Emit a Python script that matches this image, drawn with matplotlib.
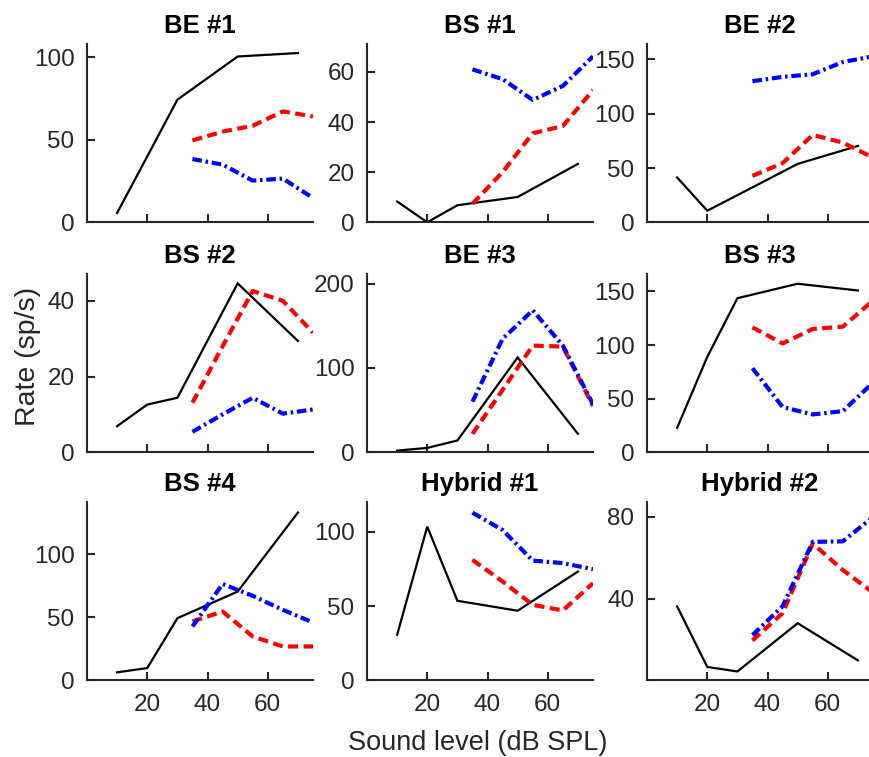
import matplotlib
matplotlib.use("Agg")
import matplotlib.pyplot as plt

plt.rcParams['font.family'] = ['Liberation Sans', 'DejaVu Sans']

titles = ["BE #1", "BS #1", "BE #2",
          "BS #2", "BE #3", "BS #3",
          "BS #4", "Hybrid #1", "Hybrid #2"]

x_black = [10, 20, 30, 50, 70]
x_color = [35, 45, 55, 65, 75]

black_vals = [
    [5.7, 40, 74.4, 100.6, 102.7],
    [8.3, 0, 6.8, 10.1, 23.3],
    [41.3, 10.7, 25, 53.8, 70.4],
    [6.9, 12.6, 14.4, 44.6, 29.4],
    [2, 5.2, 14, 112.5, 21.9],
    [22.8, 89, 143.7, 157.2, 150.9],
    [6.3, 9.7, 49.2, 70.3, 132.9],
    [30.7, 103.6, 53.6, 46.9, 73.3],
    [36.3, 6.8, 4.6, 28.1, 10],
]
red_vals = [
    [49.7, 55, 58.6, 67.3, 64.2],
    [7.4, 20, 35.5, 38.4, 52.7],
    [42.8, 54.5, 80.5, 73.4, 59.6],
    [13.1, 28, 42.6, 40, 31.6],
    [21.9, 74, 126.5, 125.3, 54.9],
    [116.5, 101.5, 115, 117.2, 141.5],
    [46.6, 54.5, 34.7, 26.8, 26.8],
    [81.2, 66.6, 50.9, 47.1, 65.5],
    [19.7, 33, 66.9, 54, 43],
]
blue_vals = [
    [38.4, 35, 25.3, 26.5, 14.8],
    [61, 57.1, 48.8, 54.4, 66.2],
    [130, 134, 136.4, 147.7, 152.9],
    [5.4, 10, 14.4, 10.2, 11.3],
    [60, 134.5, 168.3, 126.5, 56.9],
    [78.4, 42.2, 35.3, 38.4, 65],
    [42.6, 76.3, 66.9, 55.8, 45.8],
    [113, 101.3, 80.7, 79, 74.9],
    [22.3, 36.4, 67.7, 68, 79.9],
]
ylims = [(0, 108), (0, 71), (0, 164),
         (0, 47), (0, 211), (0, 166),
         (0, 141), (0, 120), (0.3, 87)]
yticks = [[0, 50, 100], [0, 20, 40, 60], [0, 50, 100, 150],
          [0, 20, 40], [0, 100, 200], [0, 50, 100, 150],
          [0, 50, 100], [0, 50, 100], [40, 80]]
xticks = [20, 40, 60]

W, H = 869, 757
fig = plt.figure(figsize=(W / 100, H / 100), dpi=100)

lefts = [87, 367, 647]
tops = [44.3, 274.3, 502.3]
aw, ah = 226, 178
dark = (0.15, 0.15, 0.15)

for i in range(9):
    r, c = divmod(i, 3)
    ax = fig.add_axes([lefts[c] / W, 1 - (tops[r] + ah) / H, aw / W, ah / H])
    ax.plot(x_black, black_vals[i], color='black', lw=1.6, solid_joinstyle='miter')
    ax.plot(x_color, red_vals[i], color=(1, 0, 0), lw=3, dashes=(2.4, 1.3))
    ax.plot(x_color, blue_vals[i], color=(0, 0, 1), lw=3, dashes=(2.3, 0.9, 0.6, 0.9))
    ax.set_xlim(0, 75)
    ax.set_ylim(*ylims[i])
    ax.set_xticks(xticks)
    ax.set_yticks(yticks[i])
    for s in ['top', 'right']:
        ax.spines[s].set_visible(False)
    for s in ['left', 'bottom']:
        ax.spines[s].set_linewidth(1.5)
        ax.spines[s].set_color(dark)
    ax.tick_params(direction='in', length=6, width=1.5, color=dark,
                   labelsize=17.5, labelcolor=dark)
    ax.tick_params(axis='y', pad=9)
    ax.tick_params(axis='x', pad=10)
    if r < 2:
        ax.set_xticklabels([])
    ax.set_title(titles[i], fontsize=18.5, fontweight='bold', pad=8)

fig.text(28 / W, 1 - 356 / H, "Rate (sp/s)", rotation=90, fontsize=20.5,
         color=dark, ha='center', va='center')
fig.text(478 / W, 1 - 743 / H, "Sound level (dB SPL)", fontsize=19.5,
         color=dark, ha='center', va='center')

fig.savefig("out.png", dpi=100)
